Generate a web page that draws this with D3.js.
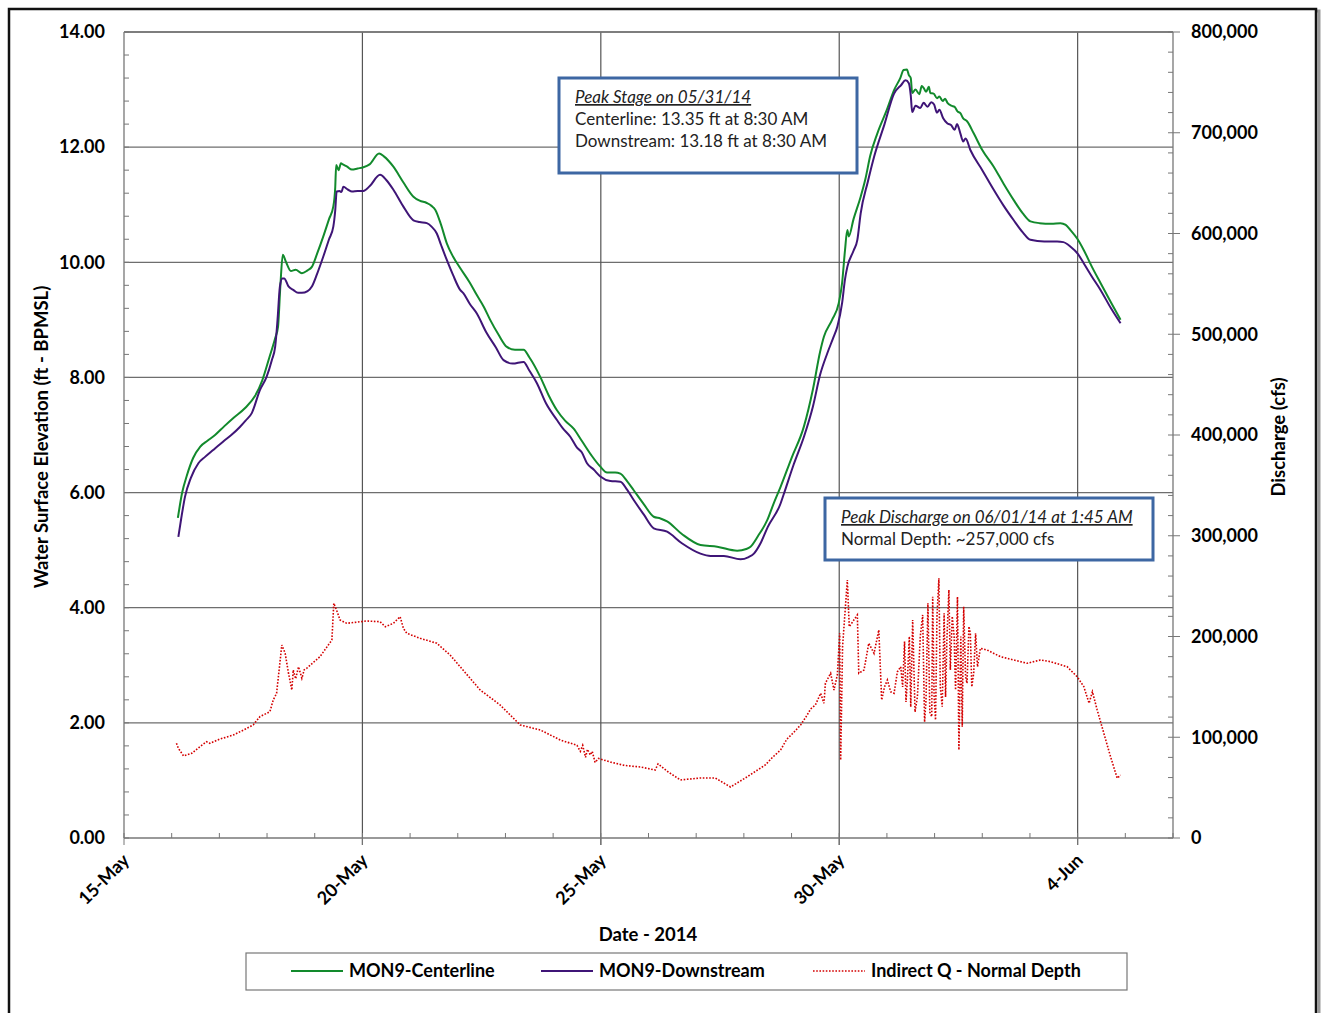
<!DOCTYPE html>
<html>
<head>
<meta charset="utf-8">
<script src="https://cdn.jsdelivr.net/npm/d3@7"></script>
<style>
  body { margin: 0; background: #fff; }
  svg text { font-family: Lato, "Open Sans", sans-serif; fill: #000; }
</style>
</head>
<body>
<svg width="1322" height="1013"></svg>
<script>
// days after 15-May-2014, and readings
const centerDays = [1.13,1.22,1.32,1.45,1.6,1.75,1.91,2.1,2.3,2.54,2.75,2.9,3.05,3.17,3.23,3.28,3.33,3.4,3.5,3.6,3.73,3.85,3.94,4.05,4.18,4.3,4.39,4.43,4.45,4.5,4.55,4.59,4.68,4.78,4.9,5.02,5.15,5.35,5.45,5.65,5.85,6.07,6.2,6.35,6.45,6.53,6.65,6.77,6.9,7.05,7.25,7.4,7.55,7.68,7.85,8.03,8.2,8.38,8.5,8.73,8.9,9.08,9.25,9.43,9.6,9.8,9.99,10.13,10.3,10.41,10.55,10.69,10.9,11.11,11.25,11.39,11.7,12.09,12.44,12.86,13.05,13.14,13.3,13.49,13.62,13.77,14.0,14.26,14.45,14.6,14.68,14.85,14.99,15.06,15.12,15.17,15.2,15.3,15.45,15.55,15.65,15.8,16.0,16.15,16.28,16.35,16.42,16.46,16.5,16.53,16.6,16.68,16.73,16.77,16.82,16.88,16.91,16.98,17.05,17.1,17.17,17.22,17.27,17.35,17.42,17.48,17.54,17.6,17.68,17.82,18.0,18.24,18.45,18.66,18.85,19.01,19.2,19.45,19.64,19.75,19.85,20.0,20.13,20.3,20.48,20.7,20.9];
const centerStage = [5.56,6.0,6.3,6.6,6.8,6.9,7.0,7.15,7.3,7.47,7.68,7.95,8.35,8.68,8.88,9.6,10.13,10.0,9.85,9.87,9.81,9.86,9.92,10.15,10.45,10.75,10.97,11.3,11.69,11.6,11.72,11.7,11.66,11.61,11.63,11.65,11.7,11.89,11.84,11.66,11.4,11.14,11.07,11.03,10.98,10.91,10.65,10.33,10.1,9.9,9.65,9.43,9.22,9.0,8.75,8.53,8.48,8.48,8.35,8.01,7.7,7.43,7.25,7.11,6.9,6.65,6.45,6.35,6.35,6.33,6.2,6.04,5.8,5.58,5.55,5.5,5.28,5.09,5.06,4.99,5.02,5.06,5.25,5.52,5.8,6.1,6.6,7.15,7.8,8.45,8.71,9.0,9.29,9.64,10.2,10.56,10.45,10.75,11.14,11.45,11.85,12.24,12.65,12.99,13.2,13.34,13.35,13.25,13.2,12.94,13.0,12.92,13.06,13.03,12.96,13.05,12.94,12.93,12.85,12.88,12.8,12.84,12.77,12.72,12.7,12.62,12.59,12.5,12.45,12.24,11.95,11.66,11.36,11.08,10.85,10.71,10.68,10.67,10.68,10.65,10.56,10.4,10.21,9.92,9.64,9.3,9.0];

const downDays = [1.14,1.2,1.28,1.4,1.56,1.7,1.87,2.1,2.25,2.43,2.55,2.68,2.85,2.99,3.1,3.17,3.22,3.27,3.32,3.36,3.45,3.55,3.65,3.73,3.85,3.94,4.05,4.18,4.3,4.39,4.43,4.46,4.52,4.56,4.6,4.7,4.78,4.9,5.02,5.15,5.37,5.5,5.65,5.85,6.07,6.2,6.35,6.45,6.56,6.65,6.77,6.9,7.05,7.12,7.25,7.4,7.6,7.8,7.96,8.15,8.38,8.5,8.66,8.85,9.08,9.2,9.36,9.5,9.6,9.71,9.85,9.99,10.2,10.41,10.55,10.69,10.9,11.11,11.39,11.7,12.09,12.3,12.58,12.93,13.1,13.21,13.35,13.5,13.77,13.84,14.05,14.26,14.45,14.6,14.75,14.88,14.96,15.06,15.12,15.17,15.3,15.38,15.45,15.6,15.73,15.95,16.15,16.3,16.39,16.46,16.5,16.53,16.6,16.7,16.77,16.85,16.93,16.99,17.05,17.1,17.18,17.27,17.35,17.42,17.47,17.54,17.6,17.65,17.75,18.0,18.24,18.45,18.66,18.85,19.01,19.3,19.57,19.7,19.85,20.0,20.13,20.3,20.48,20.7,20.9];
const downStage = [5.23,5.55,5.93,6.25,6.51,6.62,6.74,6.9,7.0,7.14,7.25,7.38,7.78,8.01,8.3,8.53,9.0,9.58,9.72,9.72,9.58,9.52,9.47,9.47,9.5,9.58,9.8,10.1,10.4,10.62,10.9,11.23,11.24,11.22,11.31,11.26,11.23,11.24,11.24,11.32,11.52,11.43,11.26,10.98,10.73,10.7,10.68,10.62,10.5,10.3,10.04,9.78,9.52,9.46,9.28,9.11,8.78,8.52,8.3,8.24,8.27,8.12,7.9,7.55,7.26,7.12,6.97,6.78,6.7,6.51,6.4,6.28,6.2,6.19,6.05,5.87,5.62,5.38,5.32,5.12,4.94,4.9,4.9,4.84,4.88,4.94,5.12,5.4,5.81,5.98,6.5,6.97,7.5,8.05,8.42,8.7,8.88,9.29,9.7,9.92,10.2,10.39,10.85,11.4,11.83,12.4,12.93,13.08,13.16,13.11,12.9,12.61,12.72,12.68,12.77,12.7,12.78,12.74,12.6,12.65,12.5,12.41,12.38,12.3,12.4,12.24,12.1,12.15,11.95,11.6,11.26,10.98,10.73,10.52,10.39,10.36,10.36,10.35,10.27,10.15,9.98,9.75,9.52,9.2,8.94];

const flowDays = [1.1,1.14,1.25,1.42,1.6,1.73,1.8,2.0,2.29,2.5,2.71,2.85,3.06,3.13,3.2,3.31,3.38,3.45,3.52,3.55,3.6,3.66,3.73,3.78,3.83,4.11,4.36,4.4,4.47,4.53,4.67,5.09,5.37,5.48,5.65,5.79,5.86,5.93,6.21,6.56,6.84,7.05,7.47,7.89,8.31,8.73,9.15,9.5,9.57,9.62,9.68,9.72,9.78,9.82,9.88,9.95,10.2,10.5,10.83,11.14,11.2,11.4,11.67,12.09,12.4,12.72,13.03,13.45,13.6,13.77,13.9,14.05,14.19,14.3,14.4,14.5,14.61,14.68,14.71,14.82,14.89,14.96,15.01,15.03,15.07,15.17,15.21,15.38,15.41,15.52,15.62,15.73,15.83,15.89,15.95,16.01,16.08,16.15,16.22,16.29,16.33,16.37,16.4,16.43,16.47,16.5,16.54,16.59,16.64,16.7,16.75,16.79,16.82,16.86,16.9,16.94,16.96,16.99,17.02,17.05,17.09,17.12,17.16,17.2,17.23,17.26,17.3,17.33,17.37,17.41,17.44,17.48,17.51,17.55,17.58,17.61,17.65,17.68,17.72,17.75,17.78,17.82,17.86,17.9,17.96,18.1,18.38,18.66,18.94,19.22,19.43,19.78,19.99,20.13,20.24,20.31,20.41,20.55,20.69,20.83,20.9];
const flowCfs = [94000,89000,81400,84000,91000,95600,94000,98000,102200,107000,112200,120400,125400,137000,143600,191600,183300,163500,146900,166800,158000,170000,158500,167000,168400,180000,196500,233000,224600,216400,213100,215400,214700,209700,213100,219700,208100,203200,198200,193300,181600,170000,146900,132000,112200,107200,97300,92000,86000,92000,80000,88000,82400,86000,75000,79000,75400,72000,70500,67500,73500,66000,57600,59600,59600,50600,59600,72500,80000,87400,98000,105000,112200,120000,128000,132000,143600,133700,153600,163500,146900,161800,203200,77400,189900,256100,209700,221400,163500,166800,193300,183300,206500,137000,150000,156800,145000,143600,165000,170000,150000,195000,135000,156800,200000,130000,216400,125000,140300,200000,221400,115000,137000,233000,125000,120400,239500,140000,117100,220000,257800,150000,130300,223000,140000,200000,246200,166800,220000,199800,146900,239500,87400,200000,110500,229600,160000,153600,210000,203200,150000,163500,203200,170000,188300,186600,180000,176700,173400,176700,175000,170000,160100,150200,133700,145200,127100,103900,80700,59300,62500];

const stageTicks = [0, 2, 4, 6, 8, 10, 12, 14];
const flowTicks = [0, 100000, 200000, 300000, 400000, 500000, 600000, 700000, 800000];
const dateTicks = [0, 5, 10, 15, 20];

const seriesNames = ["MON9-Centerline", "MON9-Downstream", "Indirect Q - Normal Depth"];
const stageNote = ["Peak Stage on 05/31/14", "Centerline: 13.35 ft at 8:30 AM", "Downstream: 13.18 ft at 8:30 AM"];
const flowNote = ["Peak Discharge on 06/01/14 at 1:45 AM", "Normal Depth: ~257,000 cfs"];

const start = new Date(2014, 4, 15);
const toDate = d => new Date(start.getTime() + d * 864e5);

const svg = d3.select("svg");
const plotL = 124, plotR = 1173, plotT = 32, plotB = 838;

// outer frame with shadow
svg.append("rect").attr("x", 11).attr("y", 11).attr("width", 1308).attr("height", 1020)
    .attr("fill", "none").attr("stroke", "#999").attr("stroke-width", 3);
svg.append("rect").attr("x", 9).attr("y", 9).attr("width", 1307).attr("height", 1020)
    .attr("fill", "#fff").attr("stroke", "#111").attr("stroke-width", 2.5);

const x = d3.scaleTime().domain([start, toDate(22)]).range([plotL, plotR]);
const y = d3.scaleLinear().domain([0, 14]).range([plotB, plotT]);
const y2 = d3.scaleLinear().domain([0, 800000]).range([plotB, plotT]);

// gridlines
svg.append("g").selectAll("line").data(stageTicks.filter(d => d > 0)).enter().append("line")
    .attr("x1", plotL).attr("x2", plotR).attr("y1", d => y(d)).attr("y2", d => y(d))
    .attr("stroke", "#6e6e6e").attr("stroke-width", 1.3);
svg.append("g").selectAll("line").data(dateTicks.filter(d => d > 0)).enter().append("line")
    .attr("x1", d => x(toDate(d))).attr("x2", d => x(toDate(d))).attr("y1", plotT).attr("y2", plotB + 7)
    .attr("stroke", "#555").attr("stroke-width", 1.2);

// minor ticks
const minorStage = d3.range(0, 14.01, 0.4);
svg.append("g").selectAll("line").data(minorStage).enter().append("line")
    .attr("x1", plotL).attr("x2", plotL + 5).attr("y1", d => y(d)).attr("y2", d => y(d))
    .attr("stroke", "#777");
const minorFlow = d3.range(0, 800001, 20000);
svg.append("g").selectAll("line").data(minorFlow).enter().append("line")
    .attr("x1", plotR - 5).attr("x2", plotR).attr("y1", d => y2(d)).attr("y2", d => y2(d))
    .attr("stroke", "#777");
svg.append("g").selectAll("line").data(flowTicks).enter().append("line")
    .attr("x1", plotR).attr("x2", plotR + 7).attr("y1", d => y2(d)).attr("y2", d => y2(d))
    .attr("stroke", "#777");
svg.append("g").selectAll("line").data(d3.range(0, 23)).enter().append("line")
    .attr("x1", d => x(toDate(d))).attr("x2", d => x(toDate(d))).attr("y1", plotB - 5).attr("y2", d => d % 5 === 0 ? plotB + 7 : plotB)
    .attr("stroke", "#777");

// axis lines
svg.append("line").attr("x1", plotL).attr("x2", plotL).attr("y1", plotT).attr("y2", plotB).attr("stroke", "#777").attr("stroke-width", 1.3);
svg.append("line").attr("x1", plotR).attr("x2", plotR).attr("y1", plotT).attr("y2", plotB).attr("stroke", "#777").attr("stroke-width", 1.3);
svg.append("line").attr("x1", plotL).attr("x2", plotR).attr("y1", plotB).attr("y2", plotB).attr("stroke", "#777").attr("stroke-width", 1.5);
svg.append("line").attr("x1", plotL).attr("x2", plotR).attr("y1", plotT).attr("y2", plotT).attr("stroke", "#777").attr("stroke-width", 1.3);

// tick labels
svg.append("g").selectAll("text").data(stageTicks).enter().append("text")
    .attr("x", 105).attr("y", d => y(d)).attr("dy", "0.35em").attr("text-anchor", "end")
    .style("font-size", "18px").style("font-weight", "bold").text(d => d.toFixed(2));
svg.append("g").selectAll("text").data(flowTicks).enter().append("text")
    .attr("x", 1191).attr("y", d => y2(d)).attr("dy", "0.35em")
    .style("font-size", "18px").style("font-weight", "bold").text(d => d3.format(",")(d));
svg.append("g").selectAll("text").data(dateTicks).enter().append("text")
    .attr("transform", d => `translate(${x(toDate(d)) + 2},${plotB + 19}) rotate(-45)`)
    .attr("text-anchor", "end").attr("dy", "0.35em")
    .style("font-size", "18px").style("font-weight", "bold").text(d => d3.timeFormat("%-d-%b")(toDate(d)));

// axis titles
svg.append("text").attr("x", 648).attr("y", 941).attr("text-anchor", "middle")
    .style("font-size", "18.5px").style("font-weight", "bold").text("Date - 2014");
svg.append("text").attr("transform", "translate(48,437) rotate(-90)").attr("text-anchor", "middle")
    .style("font-size", "18.5px").style("font-weight", "bold").text("Water Surface Elevation (ft - BPMSL)");
svg.append("text").attr("transform", "translate(1285,437) rotate(-90)").attr("text-anchor", "middle")
    .style("font-size", "18.5px").style("font-weight", "bold").text("Discharge (cfs)");

// series
const colors = ["#128a2c", "#3f1577", "#d40000"];
const stageLine = d3.line().x(d => x(toDate(d[0]))).y(d => y(d[1])).curve(d3.curveMonotoneX);
const flowLine = d3.line().x(d => x(toDate(d[0]))).y(d => y2(d[1]));

svg.append("path").datum(d3.zip(flowDays, flowCfs)).attr("d", flowLine)
    .attr("fill", "none").attr("stroke", colors[2]).attr("stroke-width", 1.6).attr("stroke-dasharray", "1.6,1.6");
svg.append("path").datum(d3.zip(centerDays, centerStage)).attr("d", stageLine)
    .attr("fill", "none").attr("stroke", colors[0]).attr("stroke-width", 2).attr("stroke-linejoin", "round");
svg.append("path").datum(d3.zip(downDays, downStage)).attr("d", stageLine)
    .attr("fill", "none").attr("stroke", colors[1]).attr("stroke-width", 2).attr("stroke-linejoin", "round");

// annotation boxes
function noteBox(bx, by, bw, bh, lines) {
    svg.append("rect").attr("x", bx).attr("y", by).attr("width", bw).attr("height", bh)
        .attr("fill", "#fff").attr("stroke", "#3d67a3").attr("stroke-width", 3);
    svg.append("g").selectAll("text").data(lines).enter().append("text")
        .attr("x", bx + 16).attr("y", (d, i) => by + 25 + i * 22)
        .style("font-size", "17px").style("fill", "#222")
        .style("font-style", (d, i) => i === 0 ? "italic" : "normal")
        .style("text-decoration", (d, i) => i === 0 ? "underline" : "none")
        .text(d => d);
}
noteBox(559, 78, 298, 95, stageNote);
noteBox(825, 498, 328, 62, flowNote);

// legend
svg.append("rect").attr("x", 246).attr("y", 953).attr("width", 881).attr("height", 37)
    .attr("fill", "#fff").attr("stroke", "#777").attr("stroke-width", 1.2);
const legendX = [291, 541, 813];
const leg = svg.append("g").selectAll("g").data(seriesNames).enter().append("g")
    .attr("transform", (d, i) => `translate(${legendX[i]},971)`);
leg.append("line").attr("x1", 0).attr("x2", 52).attr("y1", 0).attr("y2", 0)
    .attr("stroke", (d, i) => colors[i]).attr("stroke-width", (d, i) => i === 2 ? 1.6 : 2)
    .attr("stroke-dasharray", (d, i) => i === 2 ? "1.6,1.6" : null);
leg.append("text").attr("x", 58).attr("dy", "0.35em")
    .style("font-size", "18px").style("font-weight", "bold").text(d => d);
</script>
</body>
</html>
